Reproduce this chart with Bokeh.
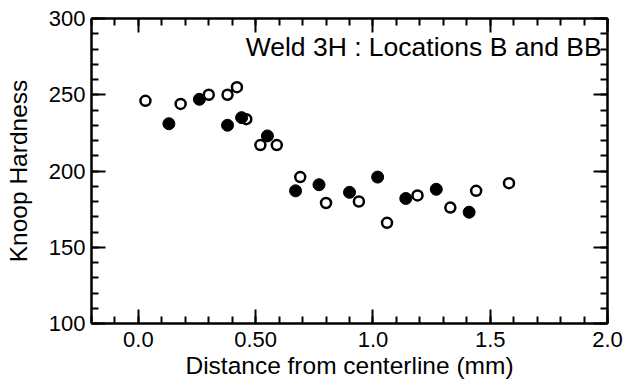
from bokeh.plotting import figure
from bokeh.models import LinearAxis, FixedTicker, Label, Range1d
from bokeh.embed import file_html
from bokeh.resources import INLINE

# Data
open_x = [0.03, 0.18, 0.30, 0.38, 0.42, 0.46, 0.52, 0.59, 0.69, 0.80, 0.94, 1.06, 1.19, 1.33, 1.44, 1.58]
open_y = [246, 244, 250, 250, 255, 234, 217, 217, 196, 179, 180, 166, 184, 176, 187, 192]
filled_x = [0.13, 0.26, 0.38, 0.44, 0.55, 0.67, 0.77, 0.90, 1.02, 1.14, 1.27, 1.41]
filled_y = [231, 247, 230, 235, 223, 187, 191, 186, 196, 182, 188, 173]

x_major = [0.0, 0.5, 1.0, 1.5, 2.0]
x_labels = ["0.0", "0.50", "1.0", "1.5", "2.0"]
x_minor = [round(-0.2 + 0.1 * i, 2) for i in range(23)]
y_major = [100, 150, 200, 250, 300]
y_minor = list(range(100, 301, 10))

title_text = "Weld 3H : Locations B and BB"
x_title = "Distance from centerline (mm)"
y_title = "Knoop Hardness"

FONT = "Liberation Sans"

p = figure(width=629, height=387, output_backend="svg", toolbar_location=None,
           x_range=Range1d(-0.2, 2.0), y_range=Range1d(100, 300),
           x_axis_location=None, y_axis_location=None,
           min_border_left=91, min_border_right=22, min_border_top=18, min_border_bottom=64)
p.outline_line_color = None
p.xgrid.visible = False
p.ygrid.visible = False
p.background_fill_color = "white"
p.border_fill_color = "white"


def style_axis(ax, labels=True):
    ax.axis_line_width = 2.5
    ax.axis_line_color = "black"
    ax.major_tick_in = 14
    ax.major_tick_out = 0
    ax.minor_tick_in = 7
    ax.minor_tick_out = 0
    ax.major_tick_line_width = 2
    ax.minor_tick_line_width = 2
    ax.major_tick_line_color = "black"
    ax.minor_tick_line_color = "black"
    ax.major_label_text_font = FONT
    ax.major_label_text_font_size = "22px"
    ax.major_label_text_color = "black"
    ax.axis_label_text_font = FONT
    ax.axis_label_text_font_size = "24.5px"
    ax.axis_label_text_font_style = "normal"
    ax.axis_label_text_color = "black"
    if not labels:
        ax.major_label_text_font_size = "0px"
        ax.major_label_text_alpha = 0


xt = FixedTicker(ticks=x_major, minor_ticks=x_minor)
yt = FixedTicker(ticks=y_major, minor_ticks=y_minor)

xb = LinearAxis(ticker=xt, axis_label=x_title)
xb.major_label_overrides = {t: l for t, l in zip(x_major, x_labels)}
style_axis(xb)
xb.major_label_standoff = 8
xb.axis_label_standoff = 2
p.add_layout(xb, "below")

yl = LinearAxis(ticker=yt, axis_label=y_title)
style_axis(yl)
yl.major_label_standoff = 6
yl.axis_label_standoff = 14
p.add_layout(yl, "left")

xtop = LinearAxis(ticker=xt)
style_axis(xtop, labels=False)
p.add_layout(xtop, "above")

yr = LinearAxis(ticker=yt)
style_axis(yr, labels=False)
p.add_layout(yr, "right")

p.scatter(open_x, open_y, size=10, fill_color="white", line_color="black", line_width=2.5)
p.scatter(filled_x, filled_y, size=12, fill_color="black", line_color="black")

lab = Label(x=1.975, y=281.0, text=title_text, text_align="right", text_baseline="alphabetic",
            text_font=FONT, text_font_size="26.5px", text_color="black")
p.add_layout(lab)

open("out.html", "w").write(file_html(p, INLINE))
